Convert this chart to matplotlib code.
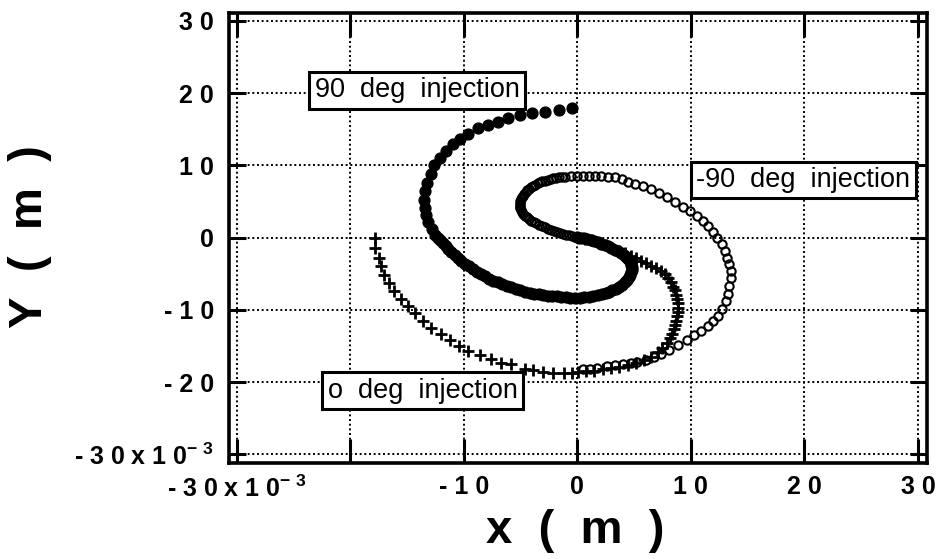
import matplotlib
matplotlib.use("Agg")
import matplotlib.pyplot as plt

plt.rcParams['font.family'] = ['Liberation Sans', 'DejaVu Sans']
plt.rcParams['mathtext.fontset'] = 'custom'
plt.rcParams['mathtext.rm'] = 'Liberation Sans:bold'
plt.rcParams['mathtext.default'] = 'rm'

# positions in units of 1e-3 m

# 90 deg injection (filled dots)
deg90_x = [-0.5, -1.65, -2.8, -4.0, -5.0, -6.1, -7.0, -7.9, -8.7, -9.6, -10.3, -10.9,
           -11.6, -12.1, -12.6, -12.9, -13.2, -13.4, -13.5, -13.4, -13.3, -13.1, -12.8,
           -12.5, -12.3, -12.1, -11.85, -11.6, -11.35, -11.1, -10.8, -10.5, -10.2, -9.9,
           -9.55, -9.2, -8.85, -8.5, -8.15, -7.8, -7.4, -7.0, -6.6, -6.2, -5.8, -5.4, -5.0,
           -4.6, -4.2, -3.8, -3.4, -3.0, -2.6, -2.2, -1.8, -1.4, -1.0, -0.6, -0.2, 0.2, 0.6,
           1.0, 1.4, 1.8, 2.15, 2.5, 2.8, 3.1, 3.4, 3.7, 3.95, 4.2, 4.4, 4.55, 4.65, 4.75,
           4.8, 4.8, 4.75, 4.7, 4.6, 4.45, 4.3, 4.1, 3.85, 3.6, 3.3, 3.0, 2.7, 2.4, 2.1, 1.8,
           1.5, 1.2, 0.9, 0.6, 0.3, 0.0]
deg90_y = [17.9, 17.6, 17.4, 17.25, 16.95, 16.5, 16.0, 15.6, 15.1, 14.4, 13.7, 12.9,
           12.0, 11.0, 10.0, 8.8, 7.6, 6.4, 5.2, 4.1, 3.1, 2.2, 1.2,
           0.4, 0.0, -0.4, -0.8, -1.2, -1.6, -2.0, -2.4, -2.8, -3.2, -3.6,
           -4.0, -4.4, -4.7, -5.0, -5.35, -5.7, -5.95, -6.2, -6.45, -6.7, -6.9, -7.1, -7.3,
           -7.5, -7.62, -7.75, -7.85, -7.95, -8.02, -8.1, -8.15, -8.2, -8.25, -8.3, -8.3, -8.3, -8.25,
           -8.2, -8.1, -8.0, -7.85, -7.7, -7.5, -7.3, -7.05, -6.8, -6.5, -6.2, -5.85, -5.5, -5.15, -4.8,
           -4.45, -4.1, -3.8, -3.5, -3.2, -2.9, -2.65, -2.4, -2.15, -1.9, -1.65, -1.4, -1.2, -1.0, -0.82, -0.65,
           -0.5, -0.35, -0.22, -0.1, 0.0, 0.1]

# -90 deg injection (open circles)
degm90_x = [0.5, 1.08, 1.76, 2.64, 3.3, 4.0, 4.75, 5.3, 6.07, 6.75, 7.4, 8.1, 8.9, 9.7,
            10.3, 10.9, 11.5, 11.95, 12.4, 12.7, 13.06, 13.27, 13.4, 13.5, 13.5, 13.4,
            13.2, 12.97, 12.7, 12.3, 11.95, 11.5, 11.1, 10.5, 9.9, 9.3, 8.6, 7.9, 7.16,
            6.45, 5.8, 5.1, 4.46, 3.9, 3.3, 2.7, 2.1, 1.53, 1.0, 0.47, -0.06, -0.59, -1.12,
            -1.35, -1.6, -1.85, -2.1, -2.35, -2.6, -2.85, -3.1, -3.3, -3.5, -3.7, -3.9,
            -4.08, -4.25, -4.4, -4.55, -4.68, -4.8, -4.88, -4.95, -5.0, -5.05, -5.06, -5.05,
            -5.0, -4.95, -4.86, -4.75, -4.6, -4.45, -4.25, -4.05, -3.83, -3.6, -3.35, -3.1,
            -2.85, -2.6, -2.33, -2.05, -1.78, -1.5, -1.22, -0.95, -0.7, -0.45, -0.22, 0.0]
degm90_y = [-18.2, -18.15, -18.06, -17.8, -17.6, -17.5, -17.4, -17.2, -16.95, -16.5, -16.1,
            -15.5, -14.9, -14.2, -13.5, -12.9, -12.25, -11.55, -10.9, -9.9, -8.8, -7.86,
            -6.7, -5.56, -4.6, -3.7, -2.8, -1.87, -0.95, 0.0, 0.8, 1.55, 2.28, 2.97, 3.67,
            4.26, 4.95, 5.6, 6.2, 6.67, 7.1, 7.45, 7.7, 8.05, 8.37, 8.45, 8.5, 8.5, 8.5,
            8.5, 8.5, 8.5, 8.45,
            8.4, 8.35, 8.28, 8.2, 8.1, 8.0, 7.9, 7.8, 7.65, 7.5, 7.33, 7.15,
            6.95, 6.75, 6.52, 6.3, 6.05, 5.8, 5.55, 5.3, 5.05, 4.8, 4.55, 4.3,
            4.05, 3.8, 3.55, 3.3, 3.05, 2.8, 2.57, 2.35, 2.15, 1.95, 1.77, 1.6,
            1.42, 1.25, 1.1, 0.95, 0.8, 0.65, 0.52, 0.4, 0.3, 0.2, 0.12, 0.05]

# 0 deg injection (plus)
deg0_x = [-17.8, -17.8, -17.5, -17.3, -17.0, -16.6, -16.1, -15.55, -14.9, -14.3, -13.6,
          -12.9, -12.0, -11.2, -10.4, -9.6, -8.6, -7.6, -6.7, -5.8, -4.6, -3.9, -3.0, -2.1,
          -1.2, -0.5, 0.1, 0.8, 1.5, 2.26, 3.0, 3.7, 4.46, 5.2, 5.9, 6.5, 7.1, 7.5, 7.9,
          8.2, 8.35, 8.5, 8.6, 8.7, 8.8, 8.85, 8.85, 8.85, 8.8, 8.7, 8.6, 8.45, 8.25, 8.0,
          7.7, 7.35, 6.95, 6.5, 6.05, 5.6, 5.15, 4.7, 4.2, 3.7, 3.1, 2.5, 1.9, 1.3, 0.7, 0.1]
deg0_y = [0.0, -1.4, -2.8, -3.9, -5.2, -6.3, -7.4, -8.5, -9.5, -10.5, -11.55,
          -12.5, -13.3, -14.2, -15.0, -15.7, -16.3, -16.85, -17.3, -17.55, -18.15, -18.3, -18.6,
          -18.75, -18.8, -18.75, -18.6, -18.5, -18.4, -18.25, -18.1, -17.9, -17.6, -17.3,
          -16.95, -16.5, -15.9, -15.25, -14.55, -13.9, -13.3, -12.7, -12.1, -11.5, -10.9,
          -10.3, -9.7, -9.1, -8.5, -7.9, -7.3, -6.8, -6.2, -5.6, -5.1, -4.65, -4.25, -3.9,
          -3.55, -3.2, -2.85, -2.5, -2.15, -1.8, -1.4, -1.0, -0.7, -0.4, -0.2, 0.0]

ticks = [-30, -20, -10, 0, 10, 20, 30]
xtick_labels = ["- 3 0 x 1 0$^{-\\ 3}$", "", "- 1 0", "0", "1 0", "2 0", "3 0"]
ytick_labels = ["- 3 0 x 1 0$^{-\\ 3}$", "- 2 0", "- 1 0", "0", "1 0", "2 0", "3 0"]

fig = plt.figure(figsize=(9.41, 5.59), dpi=100)
ax = fig.add_axes([0.2434, 0.1723, 0.7417, 0.8037])

ax.plot(deg90_x, deg90_y, linestyle='none', marker='o', ms=7.8, color='black', zorder=3)
ax.plot(degm90_x, degm90_y, linestyle='none', marker='o', ms=6.0, mew=1.5,
        mfc='none', mec='black', zorder=3)
ax.plot(deg0_x, deg0_y, linestyle='none', marker='+', ms=8.5, mew=2.0, color='black', zorder=4)

ax.set_xlim(-30.66, 30.79)
ax.set_ylim(-31.16, 31.03)
ax.set_xticks(ticks)
ax.set_xticklabels(xtick_labels)
ax.set_yticks(ticks)
ax.set_yticklabels(ytick_labels)
ax.tick_params(axis='both', direction='in', width=2.2, top=True, right=True,
               labelsize=18)
ax.tick_params(axis='x', length=17, pad=9)
ax.tick_params(axis='y', length=12, pad=11)
for lab in ax.get_xticklabels() + ax.get_yticklabels():
    lab.set_fontweight('bold')

ax.grid(True, color='black', linestyle=(0, (1, 1.4)), linewidth=1.4)
ax.set_axisbelow(True)
for sp in ax.spines.values():
    sp.set_linewidth(2.6)

box = dict(boxstyle='square,pad=0.2', fc='white', ec='black', lw=2.2)
ax.text(-14.1, 20.4, "90  deg  injection", ha='center', va='center', fontsize=19.5,
        bbox=box, zorder=5)
ax.text(19.9, 7.96, "-90  deg  injection", ha='center', va='center', fontsize=19.5,
        bbox=box, zorder=5)
ax.text(-13.6, -21.2, "o  deg  injection", ha='center', va='center', fontsize=19.5,
        bbox=box, zorder=5)

fig.text(575 / 941, 1 - 531 / 559, "x  (  m  )", ha='center', va='center',
         fontsize=34, fontweight='bold')
fig.text(30 / 941, 1 - 237 / 559, "Y  (  m  )", ha='center', va='center',
         rotation=90, fontsize=34, fontweight='bold')

fig.savefig("out.png", dpi=100)
